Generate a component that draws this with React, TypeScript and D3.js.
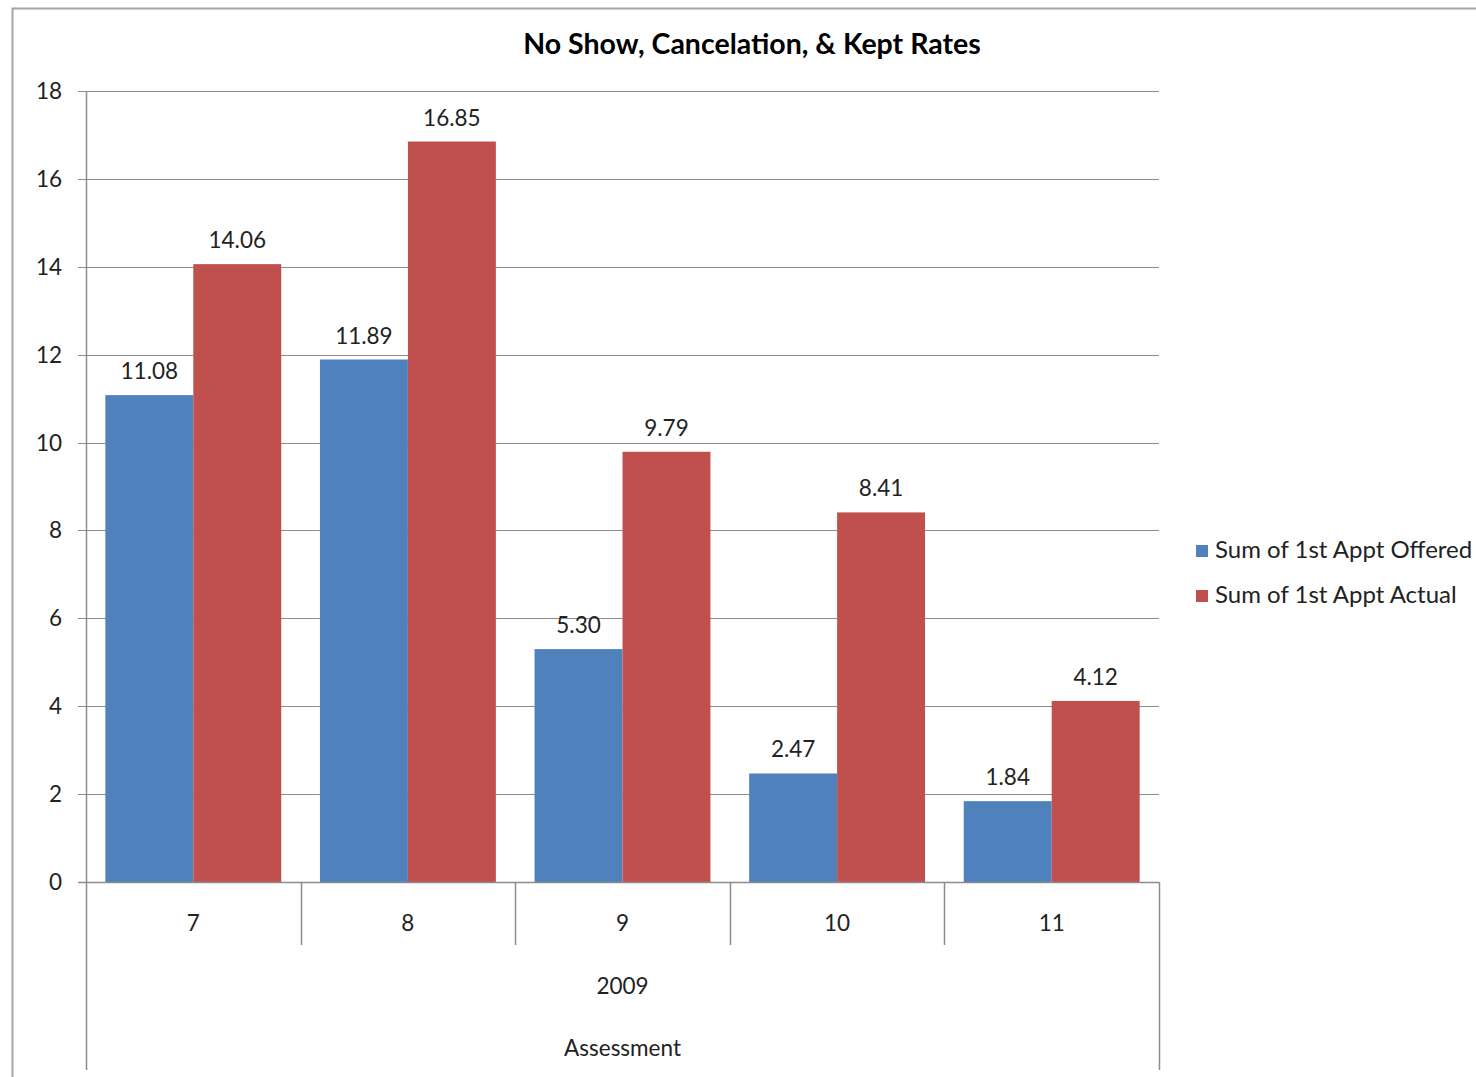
import React from "react";
import * as d3 from "d3";

const categories = ["7", "8", "9", "10", "11"];
const offered = [11.08, 11.89, 5.3, 2.47, 1.84];
const actual = [14.06, 16.85, 9.79, 8.41, 4.12];
const seriesNames = ["Sum of 1st Appt Offered", "Sum of 1st Appt Actual"];
const yTicks = [0, 2, 4, 6, 8, 10, 12, 14, 16, 18];
const colors = ["#4F81BD", "#C0504D"];

export default function App() {
  const W = 1476, H = 1077;
  const left = 86, right = 1159, top = 91, bottom = 882;
  const font = "Lato, 'Open Sans', sans-serif";
  const x = d3.scaleBand().domain(categories).range([left, right]).paddingInner(0).paddingOuter(0);
  const inner = d3.scaleBand().domain(["0", "1"]).range([0, x.bandwidth()]).paddingInner(0).paddingOuter(0.22);
  const y = d3.scaleLinear().domain([0, 18]).range([bottom, top]);
  const series = [offered, actual];
  const gray = "#8c8c8c";
  const fs = 22.5;
  return (
    <svg width={W} height={H} style={{ position: "absolute", left: 0, top: 0 }} fontFamily={font}>
      <rect x={0} y={0} width={W} height={H} fill="#fff" />
      <path d={`M12.5,${H} V8.5 H${W}`} fill="none" stroke="#a6a6a6" strokeWidth={2} />
      <text x={752} y={54} textAnchor="middle" fontSize={28.5} fontWeight="bold" fill="#000">No Show, Cancelation, &amp; Kept Rates</text>
      {yTicks.map((t) => (
        <g key={t}>
          <line x1={78} x2={right} y1={Math.round(y(t)) + 0.5} y2={Math.round(y(t)) + 0.5} stroke={gray} strokeWidth={1} />
          <text x={62} y={y(t) + 8} textAnchor="end" fontSize={fs} fill="#222">{t}</text>
        </g>
      ))}
      {categories.map((c, i) => (
        <g key={c}>
          {series.map((s, k) => {
            const bx = (x(c) as number) + (inner(String(k)) as number);
            return (
              <g key={k}>
                <rect x={bx} y={y(s[i])} width={inner.bandwidth()} height={bottom - y(s[i])} fill={colors[k]} />
                <text x={bx + inner.bandwidth() / 2} y={y(s[i]) - 16} textAnchor="middle" fontSize={fs} fill="#222">{s[i].toFixed(2)}</text>
              </g>
            );
          })}
          <text x={(x(c) as number) + x.bandwidth() / 2} y={931} textAnchor="middle" fontSize={fs} fill="#222">{c}</text>
        </g>
      ))}
      <line x1={86.5} x2={86.5} y1={top} y2={1070} stroke={gray} strokeWidth={1.5} />
      <line x1={right + 0.5} x2={right + 0.5} y1={bottom} y2={1070} stroke={gray} strokeWidth={1.5} />
      {categories.slice(1).map((c) => (
        <line key={c} x1={Math.round(x(c) as number) + 0.5} x2={Math.round(x(c) as number) + 0.5} y1={bottom} y2={945} stroke={gray} strokeWidth={1.5} />
      ))}
      <line x1={78} x2={right} y1={bottom + 0.5} y2={bottom + 0.5} stroke={gray} strokeWidth={1.5} />
      <text x={(left + right) / 2} y={994} textAnchor="middle" fontSize={fs} fill="#222">2009</text>
      <text x={(left + right) / 2} y={1056} textAnchor="middle" fontSize={fs} fill="#222">Assessment</text>
      {seriesNames.map((n, k) => (
        <g key={n}>
          <rect x={1196} y={545 + k * 45} width={12} height={12} fill={colors[k]} />
          <text x={1215} y={558 + k * 45} fontSize={24} fill="#222">{n}</text>
        </g>
      ))}
    </svg>
  );
}
